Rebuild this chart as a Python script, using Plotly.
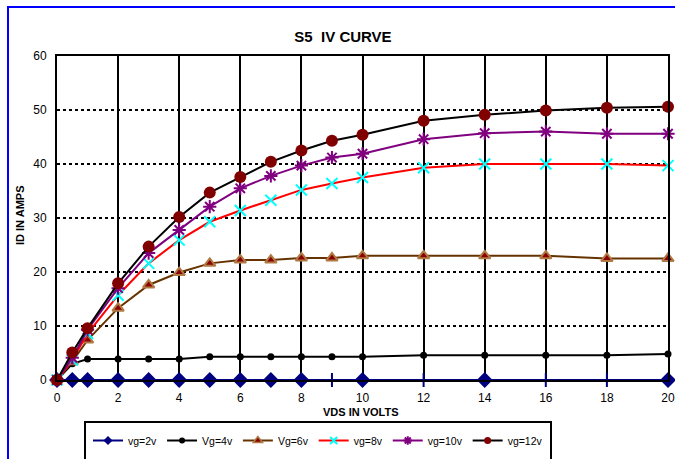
import plotly.graph_objects as go

vds = [0, 0.5, 1, 2, 3, 4, 5, 6, 7, 8, 9, 10, 12, 14, 16, 18, 20]
vg2 = [0, 0, 0, 0, 0, 0, 0, 0, 0, 0, 0, 0, 0, 0, 0, 0, 0]
vg4 = [0, 3.0, 3.9, 3.9, 3.9, 3.9, 4.3, 4.3, 4.3, 4.3, 4.3, 4.3, 4.6, 4.6, 4.6, 4.6, 4.8]
vg6 = [0, 3.4, 7.4, 13.3, 17.6, 19.9, 21.6, 22.2, 22.2, 22.6, 22.6, 23.0, 23.0, 23.0, 23.0, 22.5, 22.5]
vg8 = [0, 3.7, 8.6, 15.7, 21.6, 25.9, 29.3, 31.4, 33.3, 35.2, 36.4, 37.5, 39.3, 40.0, 40.0, 40.0, 39.7]
vg10 = [0, 4.1, 9.3, 17.0, 23.5, 27.8, 32.1, 35.5, 37.8, 39.7, 41.2, 41.9, 44.6, 45.7, 46.0, 45.6, 45.6]
vg12 = [0, 5.1, 9.6, 17.9, 24.7, 30.2, 34.7, 37.6, 40.4, 42.5, 44.3, 45.4, 48.0, 49.1, 49.9, 50.4, 50.6]
names = ["vg=2v", "Vg=4v", "Vg=6v", "vg=8v", "vg=10v", "vg=12v"]
x_ticks = [0, 2, 4, 6, 8, 10, 12, 14, 16, 18, 20]
y_ticks = [0, 10, 20, 30, 40, 50, 60]

W, H = 675, 459
L, R, T, B = 57, 7, 56, 79
pw, ph = W - L - R, H - T - B

def px_x(p):
    return (p - L) / pw

def px_y(p):
    return (H - B - p) / ph

sym2 = ["diamond"] * len(vds)
for i, v in enumerate(vds):
    if v in (9, 12, 16, 18):
        sym2[i] = "line-ns"

series = [
    dict(y=vg2, line=dict(color="#000080", width=2),
         marker=dict(symbol=sym2, size=10, color="#000080", line=dict(color="#000080", width=2)),
         legmarker=dict(symbol="diamond", size=7, color="#000080")),
    dict(y=vg4, line=dict(color="black", width=2),
         marker=dict(symbol="circle", size=7, color="black"),
         legmarker=dict(symbol="circle", size=6, color="black")),
    dict(y=vg6, line=dict(color="#663300", width=2),
         marker=dict(symbol="triangle-up", size=10, color="#8B0000", line=dict(color="#B07A45", width=2)),
         legmarker=dict(symbol="triangle-up", size=8, color="#8B0000", line=dict(color="#B07A45", width=1.5))),
    dict(y=vg8, line=dict(color="#FF0000", width=2),
         marker=dict(symbol="x-thin", size=11, color="#00FFFF", line=dict(color="#00FFFF", width=2)),
         legmarker=dict(symbol="x-thin", size=7, color="#00FFFF", line=dict(color="#00FFFF", width=2))),
    dict(y=vg10, line=dict(color="#800080", width=2),
         marker=dict(symbol="asterisk", size=11, color="#800080", line=dict(color="#800080", width=2)),
         legmarker=dict(symbol="asterisk", size=7, color="#800080", line=dict(color="#800080", width=2))),
    dict(y=vg12, line=dict(color="black", width=2),
         marker=dict(symbol="circle", size=12, color="#800000"),
         legmarker=dict(symbol="circle", size=7, color="#800000")),
]

fig = go.Figure()
for name, s in zip(names, series):
    fig.add_trace(go.Scatter(x=vds, y=s["y"], name=name, mode="lines+markers",
                             line=s["line"], marker=s["marker"], cliponaxis=False,
                             showlegend=False, legendgroup=name))
for name, s in zip(names, series):
    fig.add_trace(go.Scatter(x=[None], y=[None], name=name, mode="lines+markers",
                             line=s["line"], marker=s["legmarker"],
                             showlegend=True, legendgroup=name))

font = "Liberation Sans, Arial, sans-serif"

fig.update_layout(
    width=W, height=H,
    margin=dict(l=L, r=R, t=T, b=B, autoexpand=False),
    paper_bgcolor="white", plot_bgcolor="white",
    font=dict(family=font, size=12, color="black"),
    title=dict(text="<b>S5  IV CURVE</b>", x=343 / W, xanchor="center",
               y=1 - 37 / H, yanchor="middle",
               font=dict(size=15, family=font, color="black")),
    showlegend=True,
    legend=dict(orientation="h", x=px_x(88), xanchor="left", y=px_y(426), yanchor="top",
                font=dict(size=10.5, family=font),
                itemwidth=30, bgcolor="rgba(0,0,0,0)", borderwidth=0,
                tracegroupgap=0),
    xaxis=dict(range=[0, 20], tickvals=x_ticks, showgrid=True, gridcolor="black", gridwidth=2,
               showline=True, linecolor="black", linewidth=2, mirror=True,
               zeroline=False, ticks="", ticklabelstandoff=6,
               tickfont=dict(size=12, family=font)),
    yaxis=dict(range=[0, 60], tickvals=y_ticks, showgrid=True, gridcolor="black", gridwidth=1.5,
               griddash="dot", showline=True, linecolor="black", linewidth=2, mirror=True,
               zeroline=False, ticks="", ticklabelstandoff=6,
               tickfont=dict(size=12, family=font)),
    annotations=[
        dict(text="<b>ID IN AMPS</b>", xref="paper", yref="paper", x=px_x(20), y=px_y(215),
             textangle=-90, showarrow=False, font=dict(size=11, family=font),
             xanchor="center", yanchor="middle"),
        dict(text="<b>VDS IN VOLTS</b>", xref="paper", yref="paper", x=px_x(361), y=px_y(412),
             showarrow=False, font=dict(size=11, family=font),
             xanchor="center", yanchor="middle"),
    ],
    shapes=[
        dict(type="rect", xref="paper", yref="paper", x0=px_x(8), x1=px_x(690),
             y0=px_y(480), y1=px_y(7), line=dict(color="#0000FF", width=2), layer="below"),
        dict(type="rect", xref="paper", yref="paper", x0=px_x(85), x1=px_x(551),
             y0=px_y(480), y1=px_y(422), line=dict(color="black", width=2), layer="below"),
    ],
)

fig.write_html("out.html", config={"displayModeBar": False},
               post_script="document.body.style.margin='0';document.body.style.overflow='hidden';")
